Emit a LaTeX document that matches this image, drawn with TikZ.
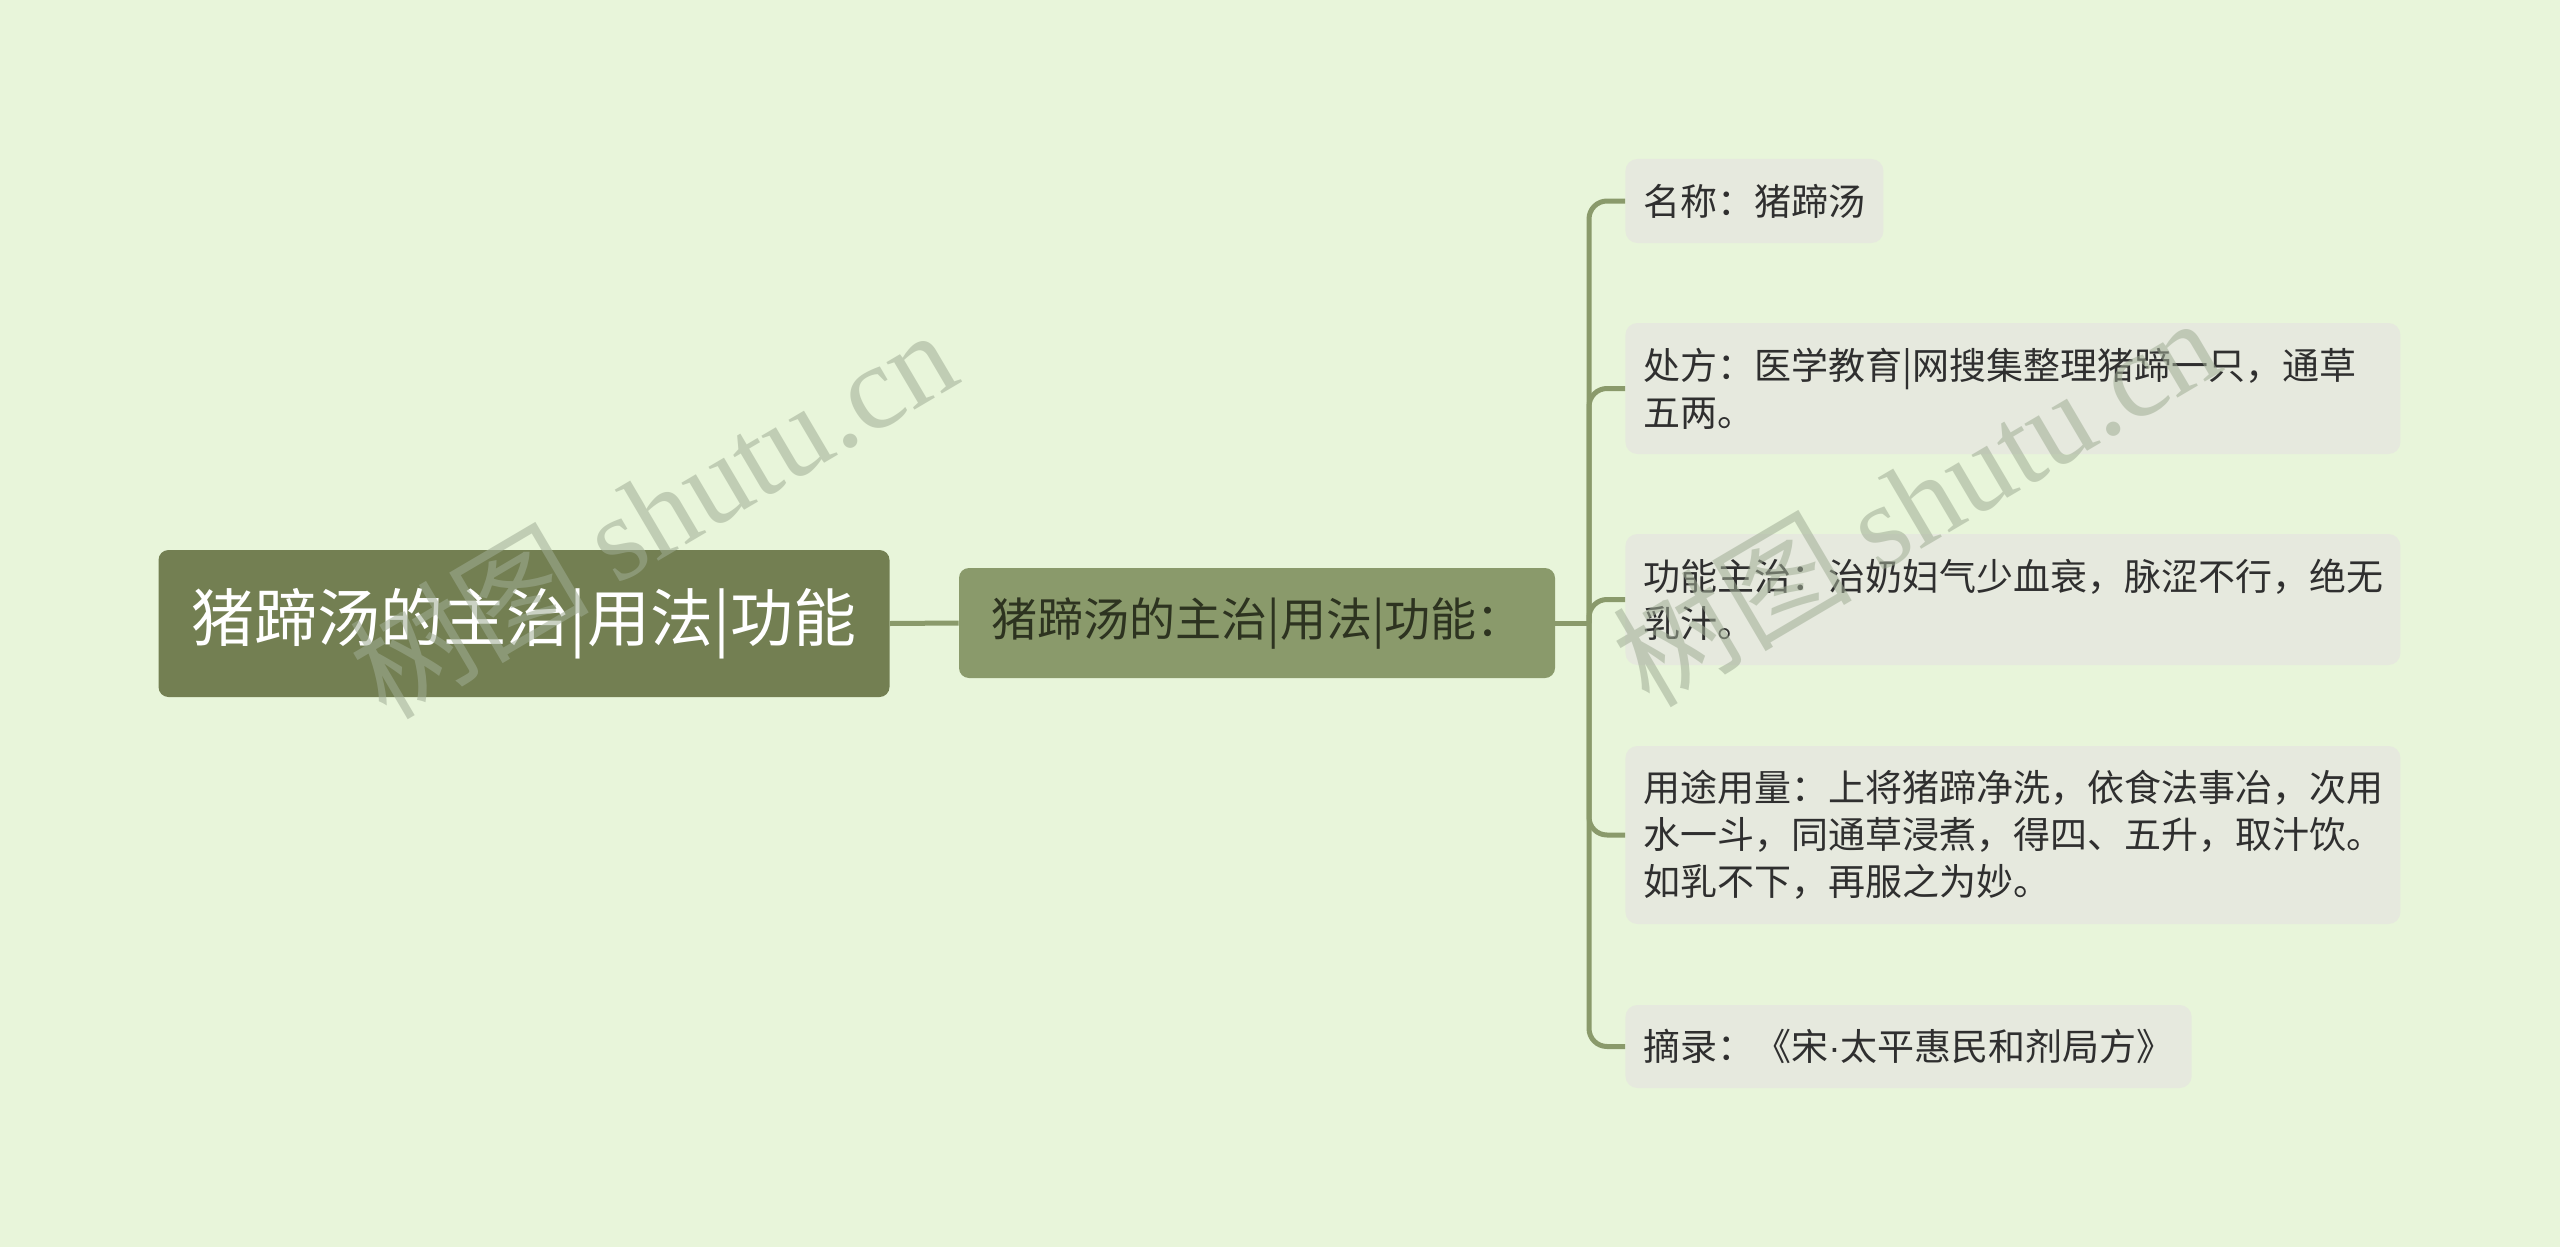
\documentclass[tikz,border=0pt]{standalone}
\usepackage{fontspec}
\setmainfont{Noto Sans CJK SC}
\newfontfamily\wmlatin{Liberation Serif}
\newfontfamily\latinsans{Liberation Sans}
\definecolor{bgc}{HTML}{E8F5DA}
\definecolor{rootc}{HTML}{737F52}
\definecolor{midc}{HTML}{8A9A6B}
\definecolor{leafc}{HTML}{E6E9DE}
\definecolor{linec}{HTML}{8A9A6B}
\definecolor{midtxt}{HTML}{2D3320}
\definecolor{leaftxt}{HTML}{2F2F2F}
\definecolor{wmc}{HTML}{A0AD95}
\begin{document}
\begin{tikzpicture}[x=0.5pt,y=-0.5pt,
  rootbox/.style={fill=rootc, rounded corners=5pt, text=white,
    font=\fontsize{31.5}{38}\selectfont, minimum width=365.5pt,
    minimum height=73.5pt, inner sep=0pt},
  midbox/.style={fill=midc, rounded corners=5pt, text=midtxt,
    font=\fontsize{23}{28}\selectfont, minimum width=298pt,
    minimum height=55pt, inner sep=0pt},
  leafbox/.style={fill=leafc, rounded corners=6pt, text=leaftxt,
    font=\fontsize{18.5}{23.5}\selectfont, align=left, anchor=west,
    inner xsep=9pt, inner ysep=0pt},
  wideleaf/.style={leafbox, text width=369.5pt},
  conn/.style={draw=linec, line width=2.5pt},
  branch/.style={conn, rounded corners=9pt},
  wmark/.style={text=wmc, opacity=0.55, rotate=30.5,
    font=\fontsize{60}{62}\selectfont, inner sep=0pt}
]
\fill[bgc] (0,0) rectangle (2560,1247);
\useasboundingbox (0,0) rectangle (2560,1247);

\node[rootbox] (root) at (524,623.5) {猪蹄汤的主治|用法|功能};
\node[midbox] (mid) at (1257,623) {猪蹄汤的主治|用法|功能：};

\node[leafbox, minimum height=42pt] (l1) at (1625,201) {名称：猪蹄汤};
\node[wideleaf, minimum height=65.5pt] (l2) at (1625,388.5)
  {处方：医学教育|网搜集整理猪蹄一只，通草\\五两。};
\node[wideleaf, minimum height=65.5pt] (l3) at (1625,599.5)
  {功能主治：治奶妇气少血衰，脉涩不行，绝无\\乳汁。};
\node[wideleaf, minimum height=89pt] (l4) at (1625,835)
  {用途用量：上将猪蹄净洗，依食法事冶，次用\\水一斗，同通草浸煮，得四、五升，取汁饮。\\如乳不下，再服之为妙。};
\node[leafbox, minimum height=41.5pt] (l5) at (1625,1046.5)
  {摘录：《宋{\latinsans ·}太平惠民和剂局方》};

\coordinate (J) at (1589,623);
\draw[conn] (root.east) -- (mid.west);
\draw[conn] (mid.east) -- (J);
\foreach \n in {l1,l2,l3,l4,l5}
  \draw[branch] (J) |- (\n.west);

\node[wmark] (wm1) at (652,512) {树图 {\wmlatin shutu.cn}};
\node[wmark] (wm2) at (1915,500) {树图 {\wmlatin shutu.cn}};
\end{tikzpicture}
\end{document}
